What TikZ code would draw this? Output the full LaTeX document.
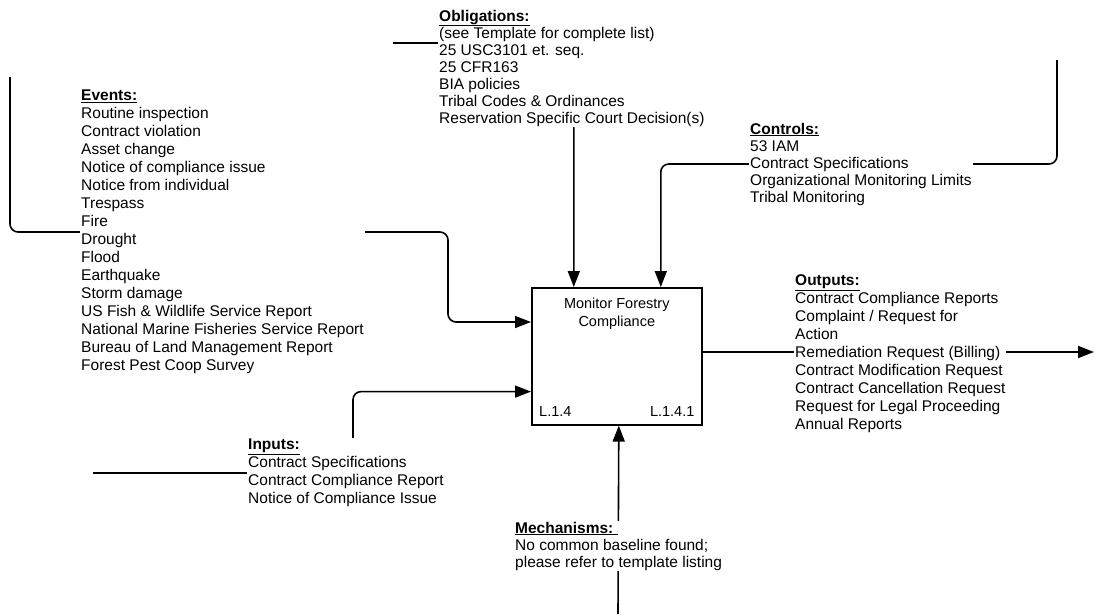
\documentclass[tikz,border=0pt]{standalone}
\usepackage{fontspec}
\setmainfont{Liberation Sans}
\usetikzlibrary{arrows.meta,positioning,backgrounds}
\newcommand{\hdr}[1]{\underline{\textbf{#1}}}
\tikzset{
  flow/.style={-{Triangle[length=16pt,width=12pt]},line width=1.6pt,rounded corners=8pt},
  wire/.style={line width=1.6pt,rounded corners=8pt},
  procbox/.style={draw,line width=1.6pt,minimum width=170pt,minimum height=137pt,
                  anchor=north west,inner sep=0pt},
  tag/.style={font=\fontsize{14.5}{18}\selectfont,inner sep=0pt,align=center},
  listing/.style={fill=white,align=left,inner sep=1pt,font=\fontsize{15.5}{18}\selectfont},
  tightlisting/.style={listing,font=\fontsize{15.5}{17}\selectfont},
}

\begin{document}
\begin{tikzpicture}[x=1pt,y=-1pt]
    \useasboundingbox (0,0) rectangle (1096,614);

    % the activity
    \node[procbox] (box) at (531,287) {};
    \node[tag] (title) at ([yshift=-27pt]box.north) {Monitor Forestry\\Compliance};
    \node[tag,anchor=west] (nodeid) at ([xshift=8pt,yshift=14pt]box.south west) {L.1.4};
    \node[tag,anchor=east] (refid) at ([xshift=-8pt,yshift=14pt]box.south east) {L.1.4.1};

    \coordinate (pObl) at ([xshift=-43pt]box.north);
    \coordinate (pCtl) at ([xshift=44pt]box.north);
    \coordinate (pEvt) at ([yshift=-35pt]box.north west);
    \coordinate (pInp) at ([yshift=34pt]box.south west);
    \coordinate (pOut) at ([yshift=-65pt]box.north east);
    \coordinate (pMech) at ([xshift=2pt]box.south);

    % free ends
    \coordinate (obFree) at (393,43);
    \coordinate (evFree) at (10,77);
    \coordinate (ctlFree) at (1057,60);
    \coordinate (inFree) at (93,473);
    \coordinate (outFree) at (1094,352);
    \coordinate (mechFree) at (618,614);

    % text blocks
    \node[tightlisting,anchor=west] (obligations) at (438,68) {\hdr{Obligations:}\\
      (see Template for complete list)\\25 USC3101 et. seq.\\25 CFR163\\BIA policies\\
      Tribal Codes \& Ordinances\\Reservation Specific Court Decision(s)};
    \node[listing,anchor=west] (events) at (80,232) {\hdr{Events:}\\
      Routine inspection\\Contract violation\\Asset change\\Notice of compliance issue\\
      Notice from individual\\Trespass\\Fire\\Drought\\Flood\\Earthquake\\Storm damage\\
      US Fish \& Wildlife Service Report\\National Marine Fisheries Service Report\\
      Bureau of Land Management Report\\Forest Pest Coop Survey};
    \node[tightlisting,anchor=west] (controls) at (749,164) {\hdr{Controls:}\\
      53 IAM\\Contract Specifications\\Organizational Monitoring Limits\\Tribal Monitoring};
    \node[listing,anchor=west] (outputs) at (794,354) {\hdr{Outputs:}\\
      Contract Compliance Reports\\Complaint / Request for\\Action\\
      Remediation Request (Billing)\\Contract Modification Request\\
      Contract Cancellation Request\\Request for Legal Proceeding\\Annual Reports};
    \node[listing,anchor=west] (inputs) at (247,473) {\hdr{Inputs:}\\
      Contract Specifications\\Contract Compliance Report\\Notice of Compliance Issue};
    \node[tightlisting,anchor=west] (mechanisms) at (514,546) {\hdr{Mechanisms:\ }\\
      No common baseline found;\\please refer to template listing};

    % arrows run under the text blocks
    \begin{scope}[on background layer]
      \fill[white] (0,0) rectangle (1096,614);
      \draw[flow] (obFree) -| (pObl);
      \draw[flow] (ctlFree) |- (controls.west) -| (pCtl);
      \draw[flow] (evFree) |- (events.west) -- ++(368,0) |- (pEvt);
      \draw[flow] (inFree) -- ++(260,0) |- (pInp);
      \draw[flow] (pOut) -- (outFree);
      \draw[flow] (mechFree) -- (pMech);
    \end{scope}
\end{tikzpicture}
\end{document}
